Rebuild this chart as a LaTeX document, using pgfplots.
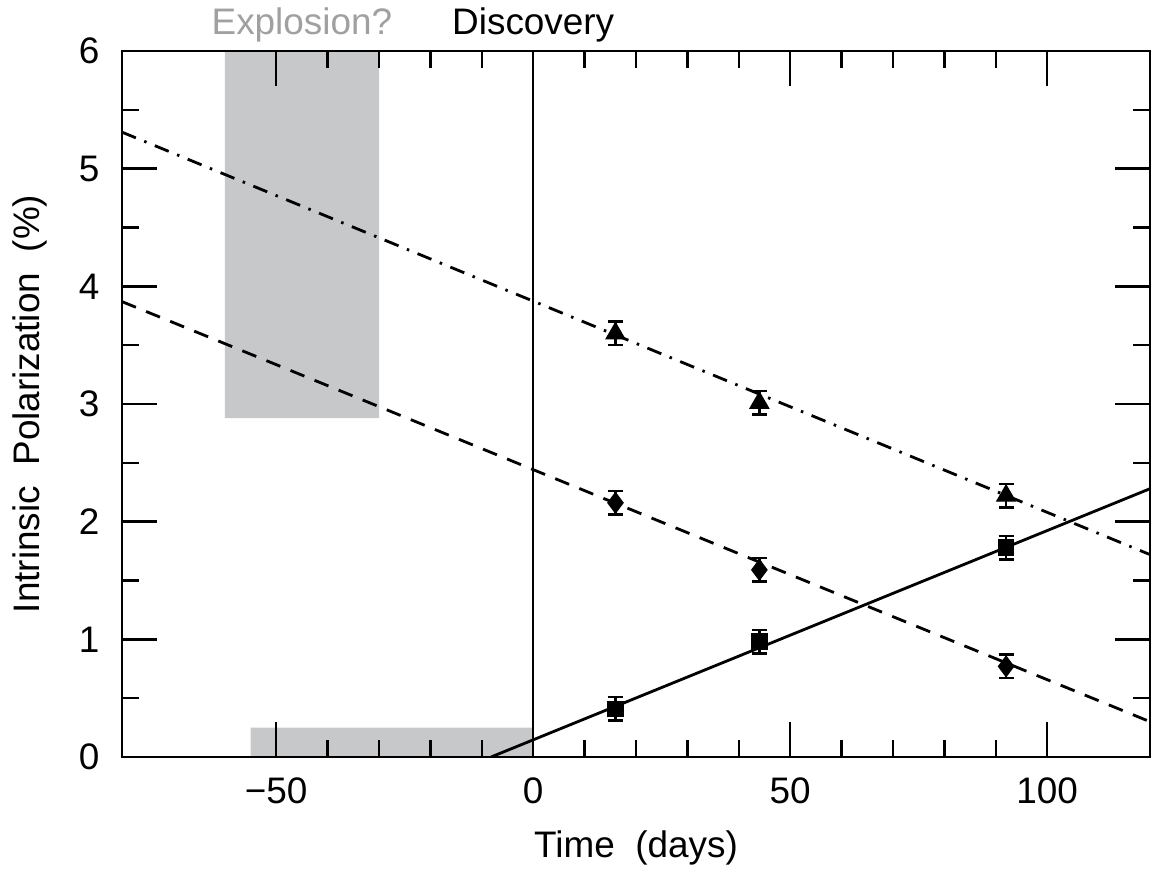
\documentclass[border=0pt]{standalone}
\usepackage{pgfplots}
\pgfplotsset{compat=1.18}
\usepackage{fontspec}
\setmainfont{Liberation Sans}
\usetikzlibrary{calc}
\definecolor{boxgray}{RGB}{199,200,202}
\definecolor{labelgray}{RGB}{160,160,160}

\begin{document}
\begin{tikzpicture}
\begin{axis}[
    scale only axis,
    width=102.8mm, height=70.6mm,
    xmin=-80, xmax=120,
    ymin=0, ymax=6,
    xtick={-50,0,50,100},
    xticklabels={−50,0,50,100},
    ytick={0,1,2,3,4,5,6},
    minor x tick num=4,
    minor y tick num=1,
    tick align=inside,
    tick pos=both,
    major tick length=3.5mm,
    minor tick length=1.7mm,
    axis on top,
    axis line style={line width=0.7pt},
    tick style={black, line width=0.7pt},
    ticklabel style={font=\fontsize{10.5}{12}\selectfont},
    xticklabel style={anchor=north, inner sep=0pt, yshift=-2mm},
    yticklabel style={anchor=east, inner sep=0pt, xshift=-2.2mm},
    /pgf/number format/assume math mode=true,
    label style={font=\fontsize{10.5}{12}\selectfont},
    xlabel={Time\ \ (days)},
    xlabel style={at={(axis description cs:0.5,-0.129)}, anchor=center},
    ylabel={Intrinsic\ \ Polarization\ \ (\%)},
    ylabel style={at={(axis description cs:-0.0895,0.5)}, anchor=center, rotate=0},
]
    % shaded explosion windows
    \addplot [fill=boxgray, draw=none] coordinates {
        (-60,2.88) (-30,2.88) (-30,6) (-60,6) (-60,2.88)
    };
    \addplot [fill=boxgray, draw=none] coordinates {
        (-55,0) (0,0) (0,0.25) (-55,0.25) (-55,0)
    };
    % discovery
    \addplot [black, line width=0.7pt] coordinates {(0,0) (0,6)};
    % fits
    \addplot [black, line width=0.8pt] coordinates {(-8.2,0) (120,2.28)};
    \addplot [black, line width=0.8pt, dash pattern=on 1.5mm off 1.1mm]
        coordinates {(-80,3.87) (120,0.30)};
    \addplot [black, line width=0.8pt, dash pattern=on 1.5mm off 0.9mm on 0.25mm off 0.9mm]
        coordinates {(-80,5.31) (120,1.72)};
    % measurements
    \addplot [black, only marks, mark=triangle*, mark size=1.05mm,
        error bars/.cd, y dir=both, y explicit,
        error bar style={line width=0.7pt},
        error mark options={rotate=90, mark size=0.75mm, line width=0.7pt}]
        table [y error=e] {
        x  y    e
        16 3.60 0.10
        44 3.01 0.10
        92 2.22 0.10
        };
    \addplot [black, only marks, mark=diamond*, mark size=1.0mm,
        error bars/.cd, y dir=both, y explicit,
        error bar style={line width=0.7pt},
        error mark options={rotate=90, mark size=0.75mm, line width=0.7pt}]
        table [y error=e] {
        x  y    e
        16 2.16 0.10
        44 1.59 0.10
        92 0.77 0.10
        };
    \addplot [black, only marks, mark=square*, mark size=0.75mm,
        error bars/.cd, y dir=both, y explicit,
        error bar style={line width=0.7pt},
        error mark options={rotate=90, mark size=0.75mm, line width=0.7pt}]
        table [y error=e] {
        x  y    e
        16 0.41 0.10
        44 0.98 0.10
        92 1.78 0.10
        };
    \coordinate (expl) at (axis cs:-45,6);
    \coordinate (disc) at (axis cs:0,6);
\end{axis}
\node [labelgray, anchor=base, yshift=1.6mm, font=\fontsize{10.5}{12}\selectfont] at (expl) {Explosion?};
\node [black, anchor=base, yshift=1.6mm, font=\fontsize{10.5}{12}\selectfont] at (disc) {Discovery};
\pgfresetboundingbox
\useasboundingbox ($(current axis.south west)+(-12.2mm,-11.6mm)$)
    rectangle ($(current axis.north east)+(0.3mm,5.1mm)$);
\end{tikzpicture}
\end{document}
